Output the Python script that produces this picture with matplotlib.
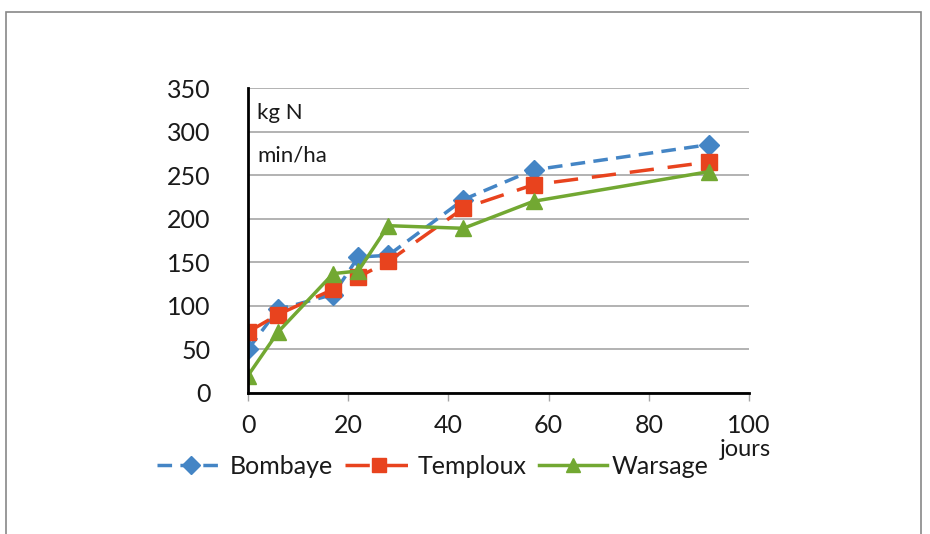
import matplotlib.pyplot as plt
from matplotlib.patches import Rectangle

plt.rcParams['font.family'] = ['Lato', 'DejaVu Sans']

jours = [0, 6, 17, 22, 28, 43, 57, 92]
bombaye = [50, 96, 113, 156, 158, 222, 256, 285]
temploux = [70, 90, 119, 133, 151, 212, 239, 265]
warsage = [20, 70, 137, 140, 192, 189, 220, 254]

yticks = [0, 50, 100, 150, 200, 250, 300, 350]
xticks = [0, 20, 40, 60, 80, 100]

fig = plt.figure(figsize=(9.30, 5.34), dpi=100)
fig.patches.append(Rectangle((6 / 930, -0.1), 915 / 930, 1.1 - 12 / 534,
                             transform=fig.transFigure, fill=False,
                             edgecolor='#888888', linewidth=1.2))

ax = fig.add_axes([248 / 930, 1 - 393 / 534, 501 / 930, 305 / 534])

ax.plot(jours, bombaye, color='#4485C5', linewidth=2.5, dashes=(4.2, 2.4),
        marker='D', markersize=10.5, label='Bombaye')
ax.plot(jours, temploux, color='#E8431E', linewidth=2.5, dashes=(7, 4),
        marker='s', markersize=12, label='Temploux')
ax.plot(jours, warsage, color='#72A832', linewidth=2.5,
        marker='^', markersize=12, label='Warsage')

ax.set_xlim(0, 100)
ax.set_ylim(0, 350)
ax.set_xticks(xticks)
ax.set_yticks(yticks)
ax.yaxis.grid(True, color='#A6A6A6', linewidth=1.2)
ax.set_axisbelow(True)
for s in ['top', 'right']:
    ax.spines[s].set_visible(False)
ax.spines['left'].set_linewidth(2)
ax.spines['bottom'].set_linewidth(2)
ax.tick_params(axis='y', length=0, pad=27, labelsize=18, labelcolor='#1a1a1a')
ax.tick_params(axis='x', length=6, width=1, color='#A6A6A6', direction='out',
               pad=9, labelsize=18, labelcolor='#1a1a1a')

ax.text(0.018, 0.90, 'kg N', transform=ax.transAxes, fontsize=16, color='#1a1a1a')
ax.text(0.018, 0.76, 'min/ha', transform=ax.transAxes, fontsize=16, color='#1a1a1a')
fig.text(745 / 930, 1 - 449 / 534, 'jours', ha='center', va='center', fontsize=17,
         color='#1a1a1a')

leg = fig.legend(loc='center', bbox_to_anchor=(433 / 930, 1 - 466 / 534), ncol=3,
                 frameon=False, fontsize=18, handlelength=2.7, handletextpad=0.2,
                 columnspacing=0.5, borderaxespad=0, markerscale=0.85)
for t in leg.get_texts():
    t.set_color('#1a1a1a')

fig.savefig('out.png', dpi=100)
